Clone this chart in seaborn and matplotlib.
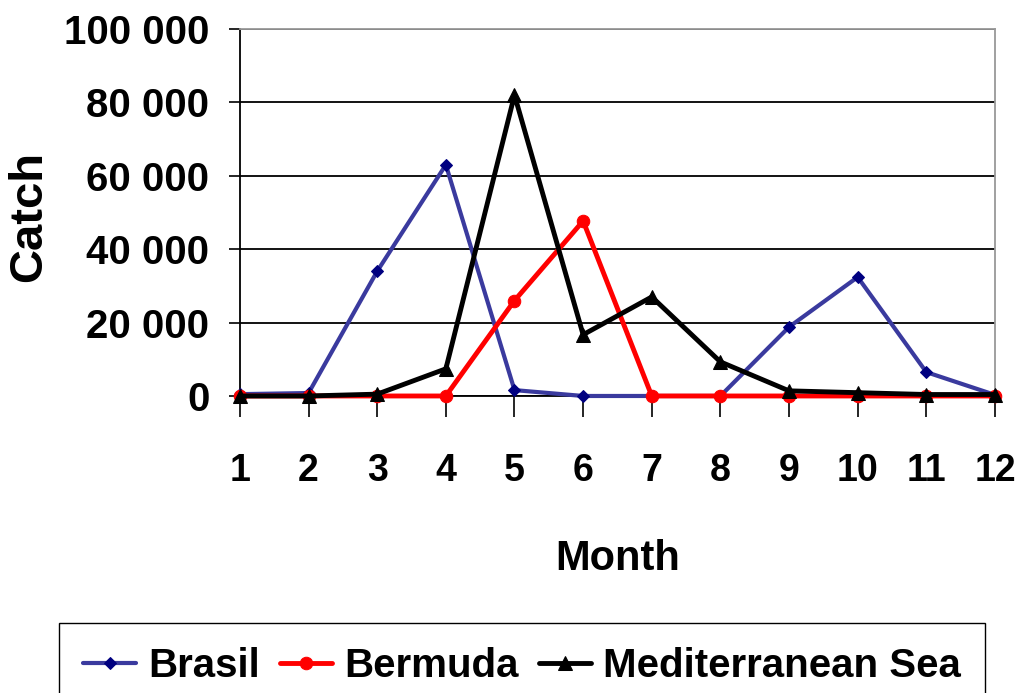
import numpy as np
import pandas as pd
import matplotlib
matplotlib.use("Agg")
import matplotlib.pyplot as plt
import seaborn as sns
from matplotlib.ticker import FuncFormatter

months = [1, 2, 3, 4, 5, 6, 7, 8, 9, 10, 11, 12]
brasil = [500, 800, 34000, 63000, 1600, 0, 0, 0, 18800, 32400, 6500, 300]
bermuda = [0, 0, 0, 0, 26000, 47700, 0, 0, 0, 0, 0, 0]
mediterranean = [0, 0, 500, 7400, 82000, 16700, 27000, 9300, 1400, 900, 400, 400]

series_names = ["Brasil", "Bermuda", "Mediterranean Sea"]
colors = ["#3a3a9e", "#ff0000", "#000000"]
markers = ["D", "o", "^"]
marker_colors = ["#000080", "#ff0000", "#000000"]

df = pd.DataFrame({
    "Month": months * 3,
    "Catch": brasil + bermuda + mediterranean,
    "Series": [n for n in series_names for _ in months],
})

sns.set_style("white")
plt.rcParams['font.family'] = ['Liberation Sans', 'DejaVu Sans']
plt.rcParams['font.weight'] = 'bold'
for k in ["text.color", "axes.labelcolor", "xtick.color", "ytick.color"]:
    plt.rcParams[k] = "black"

fig = plt.figure(figsize=(10.21, 6.93), dpi=100)
ax = fig.add_axes([0.235, 0.4286, 0.7395, 0.5295])

sizes = [6, 9, 10]
lws = [3, 3.5, 3.5]
for name, c, m, mc, ms, lw in zip(series_names, colors, markers, marker_colors, sizes, lws):
    sub = df[df["Series"] == name]
    sns.lineplot(data=sub, x="Month", y="Catch", ax=ax, color=c, linewidth=lw,
                 marker=m, markersize=ms, markerfacecolor=mc, markeredgecolor=mc,
                 label=name, clip_on=False, zorder=3)

ax.set_xlim(1, 12)
ax.set_ylim(0, 100000)
ax.set_xticks(months)
ax.set_yticks(np.arange(0, 100001, 20000))
ax.yaxis.set_major_formatter(FuncFormatter(lambda v, p: f"{int(v):,}".replace(",", " ")))
ax.grid(axis="y", color="black", linewidth=1.3)
ax.set_axisbelow(True)

for s in ["left", "bottom"]:
    ax.spines[s].set_color("black")
    ax.spines[s].set_linewidth(1.3)
for s in ["top", "right"]:
    ax.spines[s].set_color("#999999")
    ax.spines[s].set_linewidth(1.3)

ax.tick_params(axis="x", direction="out", length=15, width=1.2, color="black",
               labelsize=27, pad=26, bottom=True)
ax.tick_params(axis="y", direction="out", length=8, width=1.2, color="black",
               labelsize=29, pad=14, left=True)
for lbl in ax.get_xticklabels() + ax.get_yticklabels():
    lbl.set_fontweight("bold")

ax.set_xlabel("Month", fontsize=30, fontweight="bold")
ax.xaxis.set_label_coords(0.5, -0.39)
ax.set_ylabel("Catch", fontsize=34, fontweight="bold")
ax.yaxis.set_label_coords(-0.25, 0.49)

ax.legend(loc="upper left", bbox_to_anchor=(0.058, 0.101), bbox_transform=fig.transFigure,
          ncol=3, frameon=True, fancybox=False, edgecolor="black", framealpha=1,
          prop={"size": 29, "weight": "bold"}, handlelength=1.3, handletextpad=0.3,
          columnspacing=0.5, borderpad=0.6, borderaxespad=0)
ax.get_legend().get_frame().set_linewidth(1.0)

fig.savefig("out.png", dpi=100)
